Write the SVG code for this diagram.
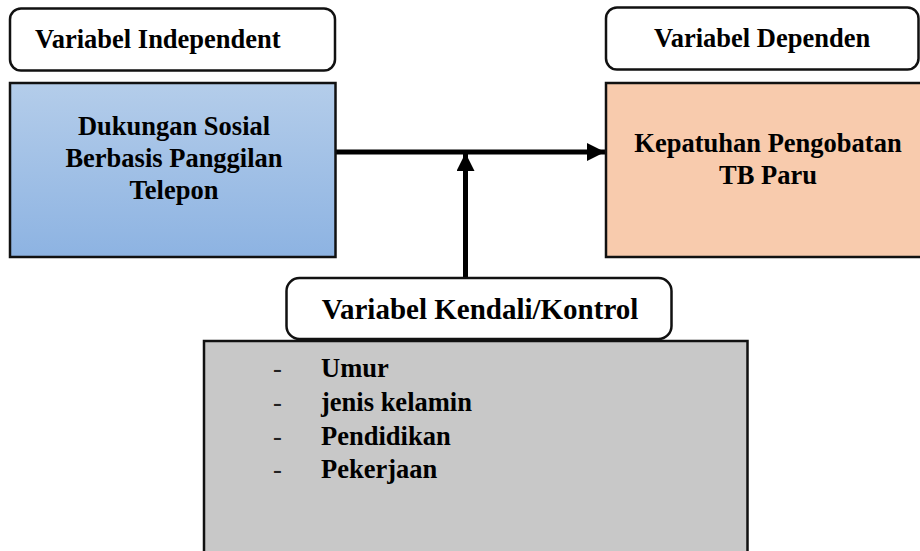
<svg xmlns="http://www.w3.org/2000/svg" width="920" height="551" viewBox="0 0 920 551">
<style>
.lbl{fill:#fff;stroke:#111;stroke-width:2.5}
.box{stroke:#111;stroke-width:2.5}
text{font-family:"Liberation Serif","Times New Roman",serif;font-weight:bold;fill:#000}
.t{font-size:26.5px}
.c{text-anchor:middle}
.d{font-weight:normal;fill:#222}
.conn{stroke:#000;stroke-width:5;fill:none}
</style>
<defs>
<linearGradient id="blue" x1="0" y1="0" x2="0" y2="1">
<stop offset="0" stop-color="#b4cdea"/>
<stop offset="1" stop-color="#8db3e2"/>
</linearGradient>
<marker id="ah" viewBox="0 0 10 10" refX="10" refY="5" markerWidth="3.6" markerHeight="3.6" markerUnits="strokeWidth" orient="auto">
<path d="M0,0 L10,5 L0,10 Z" fill="#000"/>
</marker>
</defs>
<g id="connectors">
<line class="conn" x1="336" y1="152" x2="605" y2="152" marker-end="url(#ah)"/>
<line class="conn" x1="465.5" y1="278" x2="465.5" y2="153" marker-end="url(#ah)"/>
</g>
<g id="label-independent">
<rect class="lbl" x="10" y="8.5" width="325" height="62" rx="11"/>
<text class="t" x="35" y="48">Variabel Independent</text>
</g>
<g id="label-dependen">
<rect class="lbl" x="606" y="7.5" width="312.5" height="62" rx="11"/>
<text class="t" x="654" y="47">Variabel Dependen</text>
</g>
<g id="node-independent">
<rect class="box" x="10" y="83" width="325.5" height="174" fill="url(#blue)"/>
<text class="t c" x="174" y="135">Dukungan Sosial</text>
<text class="t c" x="174" y="167">Berbasis Panggilan</text>
<text class="t c" x="174" y="199">Telepon</text>
</g>
<g id="node-dependen">
<rect class="box" x="606" y="83" width="330" height="174" fill="#f8cbad"/>
<text class="t c" x="768" y="152">Kepatuhan Pengobatan</text>
<text class="t c" x="768" y="183.5">TB Paru</text>
</g>
<g id="node-kontrol">
<rect class="box" x="204" y="341" width="543.5" height="230" fill="#c8c8c8"/>
<text class="t d" x="273" y="377">-</text>
<text class="t" x="321" y="377">Umur</text>
<text class="t d" x="273" y="411">-</text>
<text class="t" x="321" y="411">jenis kelamin</text>
<text class="t d" x="273" y="444.5">-</text>
<text class="t" x="321" y="444.5">Pendidikan</text>
<text class="t d" x="273" y="478">-</text>
<text class="t" x="321" y="478">Pekerjaan</text>
</g>
<g id="label-kontrol">
<rect class="lbl" x="286.5" y="278" width="385" height="61" rx="13"/>
<text class="c" x="480" y="319" style="font-size:29px">Variabel Kendali/Kontrol</text>
</g>
</svg>
